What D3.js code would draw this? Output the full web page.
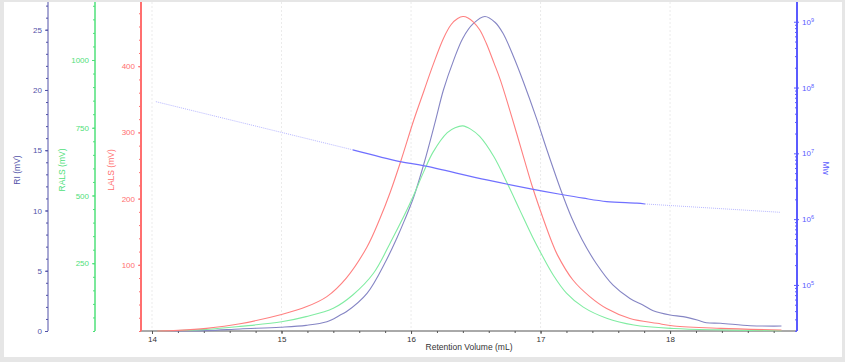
<!DOCTYPE html>
<html>
<head>
<meta charset="utf-8">
<script src="https://cdn.jsdelivr.net/npm/d3@7"></script>
<style>
  body { margin: 0; background: #e6e6e6; }
  svg { display: block; font-family: "Liberation Sans", Arial, sans-serif; }
  .tick text { font-size: 8px; }
</style>
</head>
<body>
<div class="chart"></div>
<script>

// retention volume (mL) and detector values
let lalsVol = [14.04, 14.2, 14.42, 14.68, 15.0, 15.19, 15.35, 15.5, 15.66, 15.76, 15.84, 15.92, 16.02, 16.1, 16.17, 16.25, 16.31, 16.36, 16.4, 16.44, 16.48, 16.53, 16.58, 16.64, 16.69, 16.78, 16.87, 16.94, 17.02, 17.09, 17.13, 17.25, 17.38, 17.51, 17.69, 17.9, 18.03, 18.39, 18.86]
let lalsVal = [0, 1, 4, 11, 25, 36.5, 52, 80, 127, 170, 210, 256, 318, 363, 402, 442, 463, 472, 475, 473, 467, 455, 435, 405, 379, 322, 262, 216, 170, 133, 115, 77, 52, 34, 19, 11.6, 7.6, 4, 1.5]

let ralsVol = [14.04, 14.2, 14.42, 14.68, 15.0, 15.19, 15.4, 15.55, 15.71, 15.85, 15.92, 16.01, 16.1, 16.17, 16.28, 16.34, 16.4, 16.46, 16.53, 16.64, 16.74, 16.84, 16.94, 17.0, 17.1, 17.2, 17.33, 17.51, 17.72, 18.03, 18.39, 18.86]
let ralsVal = [0, 2, 6, 17, 34, 53, 84, 133, 213, 335, 400, 490, 590, 660, 732, 750, 757, 745, 718, 643, 548, 446, 345, 290, 205, 140, 88, 47, 22, 9, 4, 1]

let riVol = [14.04, 14.42, 14.68, 14.99, 15.19, 15.35, 15.45, 15.5, 15.66, 15.81, 15.89, 15.95, 16.02, 16.1, 16.19, 16.25, 16.33, 16.4, 16.48, 16.57, 16.65, 16.71, 16.79, 16.87, 16.97, 17.05, 17.16, 17.24, 17.32, 17.43, 17.56, 17.69, 17.79, 17.87, 18.0, 18.1, 18.21, 18.28, 18.39, 18.62, 18.86]
let riVal = [0, 0.03, 0.17, 0.31, 0.47, 0.77, 1.3, 1.6, 3.13, 5.9, 7.7, 9.2, 11.1, 13.9, 17.5, 20.0, 22.5, 24.3, 25.5, 26.1, 25.6, 24.7, 22.8, 20.6, 17.6, 15.0, 11.6, 9.4, 7.6, 5.6, 3.8, 2.7, 2.16, 1.68, 1.33, 1.19, 0.91, 0.69, 0.64, 0.44, 0.41]

let mwVol = [15.55, 15.915, 16.095, 16.585, 16.944, 17.151, 17.331, 17.511, 17.743, 17.807]
let mwVal = [1.13e7, 7.5e6, 6.5e6, 3.94e6, 2.84e6, 2.39e6, 2.08e6, 1.85e6, 1.75e6, 1.70e6]
let mwFitLowVol = [14.03, 15.55]
let mwFitLowVal = [6.1e7, 1.13e7]
let mwFitHighVol = [17.807, 18.85]
let mwFitHighVal = [1.70e6, 1.27e6]

let xTicks = [14, 15, 16, 17, 18]
let riTicks = [0, 5, 10, 15, 20, 25]
let ralsTicks = [250, 500, 750, 1000]
let lalsTicks = [100, 200, 300, 400]
let mwTicks = [1e5, 1e6, 1e7, 1e8, 1e9]

let width = 845
let height = 362
let plotTop = 2
let plotBottom = 331
let plotLeft = 141
let plotRight = 797

const svg = d3.select(".chart")
    .append("svg")
    .attr("width", width)
    .attr("height", height)

svg.append("rect")
    .attr("x", 4)
    .attr("y", 2)
    .attr("width", 838)
    .attr("height", 355)
    .attr("fill", "white")

const x = d3.scaleLinear().domain([13.915, 18.98]).range([plotLeft, plotRight])
const yRI = d3.scaleLinear().domain([0, 27.3]).range([plotBottom, plotTop])
const yRALS = d3.scaleLinear().domain([0, 1214]).range([plotBottom, plotTop])
const yLALS = d3.scaleLinear().domain([0, 497]).range([plotBottom, plotTop])
const yMw = d3.scaleLog().domain([Math.pow(10, 4.3), Math.pow(10, 9.3)]).range([plotBottom, plotTop])

// vertical grid
svg.append("g")
    .selectAll("line")
    .data(xTicks)
    .enter()
    .append("line")
    .attr("x1", d => x(d))
    .attr("x2", d => x(d))
    .attr("y1", plotTop)
    .attr("y2", plotBottom)
    .attr("stroke", "#ebebeb")
    .attr("stroke-dasharray", "2,2")

function styleAxis(g, color, lineWidth) {
    g.select(".domain").attr("stroke", color).attr("stroke-width", lineWidth)
    g.selectAll(".tick line").attr("stroke", color)
    g.selectAll(".tick text").attr("fill", color)
}

function steps(a, b, step) {
    return d3.range(Math.round((b - a) / step) + 1).map(i => +(a + i * step).toFixed(4))
}

// x axis
let xMinor = svg.append("g")
    .attr("transform", `translate(0, ${plotBottom})`)
    .call(d3.axisBottom(x).tickValues(steps(14, 18.8, 0.2)).tickSize(2).tickFormat(""))
xMinor.select(".domain").remove()
xMinor.selectAll(".tick line").attr("stroke", "#555")

let xAxis = svg.append("g")
    .attr("transform", `translate(0, ${plotBottom})`)
    .call(d3.axisBottom(x).tickValues(xTicks).tickSize(3).tickPadding(2).tickFormat(d3.format("d")))
xAxis.select(".domain").attr("d", `M${plotLeft},0H${plotRight}`)
styleAxis(xAxis, "#555", 1)
xAxis.selectAll(".tick text").attr("fill", "#333")

svg.append("text")
    .attr("x", (plotLeft + plotRight) / 2)
    .attr("y", 350)
    .attr("text-anchor", "middle")
    .attr("font-size", 8.5)
    .attr("fill", "#333")
    .text("Retention Volume (mL)")

// left axes
function leftAxis(xPos, scale, ticks, minor, color, lineWidth, label, labelX) {
    let gm = svg.append("g")
        .attr("transform", `translate(${xPos}, 0)`)
        .call(d3.axisLeft(scale).tickValues(minor).tickSize(2).tickFormat(""))
    gm.select(".domain").remove()
    gm.selectAll(".tick line").attr("stroke", color)

    let g = svg.append("g")
        .attr("transform", `translate(${xPos}, 0)`)
        .call(d3.axisLeft(scale).tickValues(ticks).tickSize(3).tickPadding(3).tickFormat(d3.format("d")))
    g.select(".domain").attr("d", `M0,${plotTop}V${plotBottom}`)
    styleAxis(g, color, lineWidth)

    svg.append("text")
        .attr("transform", `translate(${labelX}, 170) rotate(-90)`)
        .attr("text-anchor", "middle")
        .attr("font-size", 8.5)
        .attr("fill", color)
        .text(label)
}

leftAxis(48, yRI, riTicks, steps(0, 27, 1), "#5252a8", 1, "RI (mV)", 20)
leftAxis(95, yRALS, ralsTicks, steps(0, 1200, 50), "#4fe07a", 1.5, "RALS (mV)", 65)
leftAxis(141, yLALS, lalsTicks, steps(0, 480, 20), "#ff6f6f", 2, "LALS (mV)", 114)

// Mw log axis on the right
let mwMinor = []
for (let e = 4; e <= 9; e++) {
    for (let m = 2; m <= 9; m++) {
        let v = m * Math.pow(10, e)
        if (v > yMw.domain()[0] && v < yMw.domain()[1]) mwMinor.push(v)
    }
}
let mwm = svg.append("g")
    .attr("transform", `translate(${plotRight}, 0)`)
    .call(d3.axisLeft(yMw).tickValues(mwMinor).tickSize(2).tickFormat(""))
mwm.select(".domain").remove()
mwm.selectAll(".tick line").attr("stroke", "#5b5bff")

let mwAxis = svg.append("g")
    .attr("transform", `translate(${plotRight}, 0)`)
    .call(d3.axisRight(yMw).tickValues(mwTicks).tickSize(0).tickPadding(5).tickFormat(""))
mwAxis.select(".domain").attr("d", `M0,${plotTop}V${plotBottom}`)
styleAxis(mwAxis, "#5b5bff", 2)
mwAxis.selectAll(".tick line").attr("x1", -3).attr("x2", 2)
mwAxis.selectAll(".tick text")
    .attr("font-size", 8)
    .each(function (d) {
        let t = d3.select(this)
        t.append("tspan").text("10")
        t.append("tspan")
            .attr("dy", -3)
            .attr("font-size", 5.5)
            .text(Math.round(Math.log10(d)))
    })

svg.append("text")
    .attr("transform", `translate(823, 168) rotate(90)`)
    .attr("text-anchor", "middle")
    .attr("font-size", 8.5)
    .attr("fill", "#5b5bff")
    .text("Mw")

// curves
function drawCurve(vols, vals, scale, color, strokeWidth, dash) {
    let line = d3.line()
        .x(d => x(d[0]))
        .y(d => scale(d[1]))
        .curve(d3.curveCatmullRom.alpha(0.5))
    svg.append("path")
        .datum(vols.map((v, i) => [v, vals[i]]))
        .attr("d", line)
        .attr("fill", "none")
        .attr("stroke", color)
        .attr("stroke-width", strokeWidth)
        .attr("stroke-dasharray", dash)
}

drawCurve(riVol, riVal, yRI, "#8585c4", 1.1, null)
drawCurve(ralsVol, ralsVal, yRALS, "#80eca2", 1.1, null)
drawCurve(lalsVol, lalsVal, yLALS, "#ff8080", 1.1, null)
drawCurve(mwFitLowVol, mwFitLowVal, yMw, "#b8b8ff", 1, "1,1")
drawCurve(mwFitHighVol, mwFitHighVal, yMw, "#b8b8ff", 1, "1,1")
drawCurve(mwVol, mwVal, yMw, "#7070ff", 1.2, null)

</script>
</body>
</html>
